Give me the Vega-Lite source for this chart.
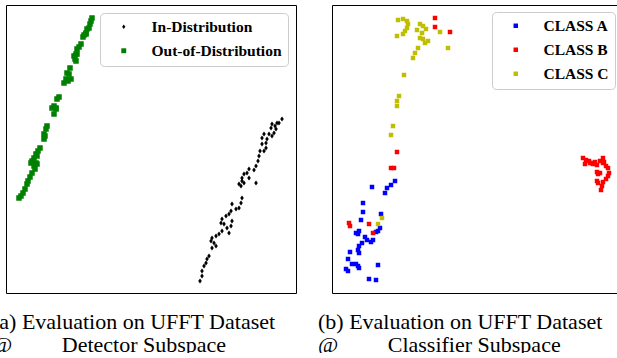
{
  "$schema": "https://vega.github.io/schema/vega-lite/v6.json",
  "padding": {"left": -9, "top": 4, "right": -5, "bottom": -4},
  "autosize": {"type": "pad"},
  "spacing": 20,
  "resolve": {"scale": {"color": "independent", "shape": "independent", "x": "independent", "y": "independent"}, "legend": {"color": "independent", "shape": "independent"}},
  "config": {
    "view": {"stroke": "black", "strokeWidth": 1},
    "font": "Liberation Serif",
    "legend": {
      "orient": "top-right",
      "offset": 8,
      "padding": 6,
      "rowPadding": 7,
      "symbolOffset": 10,
      "labelOffset": 20,
      "symbolSize": 20,
      "cornerRadius": 4,
      "strokeColor": "#cccccc",
      "fillColor": "rgba(255,255,255,0.8)",
      "labelFont": "Liberation Serif",
      "labelFontWeight": "bold",
      "labelFontSize": 15.5,
      "labelColor": "black",
      "symbolStrokeWidth": 0
    },
    "title": {
      "orient": "bottom",
      "anchor": "start",
      "align": "left",
      "dx": -14,
      "offset": 19,
      "font": "Liberation Serif",
      "fontSize": 22,
      "fontWeight": "normal",
      "lineHeight": 23,
      "color": "black",
      "frame": "group"
    }
  },
  "hconcat": [
    {
      "width": 290,
      "height": 288,
      "title": {"text": ["(a) Evaluation on UFFT Dataset", "@\u00a0\u00a0\u00a0\u00a0\u00a0\u00a0\u00a0\u00a0\u00a0Detector Subspace"]},
      "data": {"values": [
        {"x":86,"y":13,"group":"Out-of-Distribution"},{"x":85,"y":16,"group":"Out-of-Distribution"},{"x":84,"y":19,"group":"Out-of-Distribution"},{"x":83,"y":23,"group":"Out-of-Distribution"},{"x":81,"y":24,"group":"Out-of-Distribution"},{"x":80,"y":28,"group":"Out-of-Distribution"},{"x":78,"y":30,"group":"Out-of-Distribution"},{"x":80,"y":29,"group":"Out-of-Distribution"},{"x":77,"y":32,"group":"Out-of-Distribution"},{"x":75,"y":39,"group":"Out-of-Distribution"},{"x":73,"y":42,"group":"Out-of-Distribution"},{"x":71,"y":44,"group":"Out-of-Distribution"},{"x":70,"y":49,"group":"Out-of-Distribution"},{"x":68,"y":51,"group":"Out-of-Distribution"},{"x":71,"y":49,"group":"Out-of-Distribution"},{"x":70,"y":56,"group":"Out-of-Distribution"},{"x":69,"y":54,"group":"Out-of-Distribution"},{"x":64,"y":63,"group":"Out-of-Distribution"},{"x":61,"y":68,"group":"Out-of-Distribution"},{"x":63,"y":69,"group":"Out-of-Distribution"},{"x":60,"y":74,"group":"Out-of-Distribution"},{"x":58,"y":78,"group":"Out-of-Distribution"},{"x":62,"y":76,"group":"Out-of-Distribution"},{"x":65,"y":74,"group":"Out-of-Distribution"},{"x":53,"y":92,"group":"Out-of-Distribution"},{"x":51,"y":94,"group":"Out-of-Distribution"},{"x":48,"y":101,"group":"Out-of-Distribution"},{"x":50,"y":103,"group":"Out-of-Distribution"},{"x":46,"y":103,"group":"Out-of-Distribution"},{"x":50,"y":104,"group":"Out-of-Distribution"},{"x":48,"y":109,"group":"Out-of-Distribution"},{"x":41,"y":121,"group":"Out-of-Distribution"},{"x":40,"y":124,"group":"Out-of-Distribution"},{"x":38,"y":129,"group":"Out-of-Distribution"},{"x":39,"y":131,"group":"Out-of-Distribution"},{"x":38,"y":134,"group":"Out-of-Distribution"},{"x":34,"y":143,"group":"Out-of-Distribution"},{"x":32,"y":146,"group":"Out-of-Distribution"},{"x":30,"y":149,"group":"Out-of-Distribution"},{"x":31,"y":151,"group":"Out-of-Distribution"},{"x":28,"y":153,"group":"Out-of-Distribution"},{"x":26,"y":156,"group":"Out-of-Distribution"},{"x":25,"y":158,"group":"Out-of-Distribution"},{"x":30,"y":158,"group":"Out-of-Distribution"},{"x":28,"y":161,"group":"Out-of-Distribution"},{"x":31,"y":159,"group":"Out-of-Distribution"},{"x":29,"y":164,"group":"Out-of-Distribution"},{"x":26,"y":168,"group":"Out-of-Distribution"},{"x":24,"y":172,"group":"Out-of-Distribution"},{"x":22,"y":176,"group":"Out-of-Distribution"},{"x":21,"y":179,"group":"Out-of-Distribution"},{"x":19,"y":184,"group":"Out-of-Distribution"},{"x":17,"y":188,"group":"Out-of-Distribution"},{"x":15,"y":191,"group":"Out-of-Distribution"},{"x":13,"y":193,"group":"Out-of-Distribution"},
        {"x":276,"y":114,"group":"In-Distribution"},{"x":273,"y":118,"group":"In-Distribution"},{"x":271,"y":118,"group":"In-Distribution"},{"x":269,"y":121,"group":"In-Distribution"},{"x":266,"y":119,"group":"In-Distribution"},{"x":265,"y":123,"group":"In-Distribution"},{"x":270,"y":124,"group":"In-Distribution"},{"x":268,"y":128,"group":"In-Distribution"},{"x":263,"y":129,"group":"In-Distribution"},{"x":266,"y":131,"group":"In-Distribution"},{"x":261,"y":134,"group":"In-Distribution"},{"x":260,"y":138,"group":"In-Distribution"},{"x":258,"y":129,"group":"In-Distribution"},{"x":256,"y":133,"group":"In-Distribution"},{"x":256,"y":139,"group":"In-Distribution"},{"x":260,"y":143,"group":"In-Distribution"},{"x":258,"y":146,"group":"In-Distribution"},{"x":254,"y":146,"group":"In-Distribution"},{"x":253,"y":151,"group":"In-Distribution"},{"x":252,"y":156,"group":"In-Distribution"},{"x":250,"y":161,"group":"In-Distribution"},{"x":248,"y":165,"group":"In-Distribution"},{"x":243,"y":164,"group":"In-Distribution"},{"x":241,"y":168,"group":"In-Distribution"},{"x":238,"y":169,"group":"In-Distribution"},{"x":236,"y":173,"group":"In-Distribution"},{"x":236,"y":176,"group":"In-Distribution"},{"x":233,"y":179,"group":"In-Distribution"},{"x":235,"y":181,"group":"In-Distribution"},{"x":238,"y":178,"group":"In-Distribution"},{"x":243,"y":173,"group":"In-Distribution"},{"x":250,"y":178,"group":"In-Distribution"},{"x":236,"y":193,"group":"In-Distribution"},{"x":235,"y":198,"group":"In-Distribution"},{"x":233,"y":203,"group":"In-Distribution"},{"x":230,"y":204,"group":"In-Distribution"},{"x":226,"y":199,"group":"In-Distribution"},{"x":225,"y":206,"group":"In-Distribution"},{"x":223,"y":209,"group":"In-Distribution"},{"x":220,"y":211,"group":"In-Distribution"},{"x":216,"y":214,"group":"In-Distribution"},{"x":215,"y":218,"group":"In-Distribution"},{"x":218,"y":219,"group":"In-Distribution"},{"x":226,"y":216,"group":"In-Distribution"},{"x":225,"y":221,"group":"In-Distribution"},{"x":221,"y":223,"group":"In-Distribution"},{"x":223,"y":228,"group":"In-Distribution"},{"x":216,"y":226,"group":"In-Distribution"},{"x":213,"y":229,"group":"In-Distribution"},{"x":210,"y":231,"group":"In-Distribution"},{"x":206,"y":233,"group":"In-Distribution"},{"x":205,"y":236,"group":"In-Distribution"},{"x":208,"y":238,"group":"In-Distribution"},{"x":210,"y":241,"group":"In-Distribution"},{"x":206,"y":243,"group":"In-Distribution"},{"x":203,"y":251,"group":"In-Distribution"},{"x":201,"y":254,"group":"In-Distribution"},{"x":200,"y":258,"group":"In-Distribution"},{"x":198,"y":261,"group":"In-Distribution"},{"x":196,"y":266,"group":"In-Distribution"},{"x":196,"y":271,"group":"In-Distribution"},{"x":194,"y":276,"group":"In-Distribution"}
      ]},
      "mark": {"type": "point", "filled": true, "opacity": 1, "size": 25},
      "encoding": {
        "x": {"field": "x", "type": "quantitative", "scale": {"domain": [0, 290]}, "axis": null},
        "y": {"field": "y", "type": "quantitative", "scale": {"domain": [0, 288], "reverse": true}, "axis": null},
        "color": {"field": "group", "type": "nominal", "title": null,
          "scale": {"domain": ["In-Distribution", "Out-of-Distribution"], "range": ["#000000", "#008000"]}},
        "shape": {"field": "group", "type": "nominal", "title": null,
          "scale": {"domain": ["In-Distribution", "Out-of-Distribution"], "range": ["M0,-1L0.72,0L0,1L-0.72,0Z", "M-1.1,-1.1H1.1V1.1H-1.1Z"]}}
      }
    },
    {
      "width": 290,
      "height": 288,
      "title": {"text": ["(b) Evaluation on UFFT Dataset", "@\u00a0\u00a0\u00a0\u00a0\u00a0\u00a0\u00a0\u00a0\u00a0Classifier Subspace"]},
      "data": {"values": [
        {"x":40,"y":182,"cls":"CLASS A"},{"x":63,"y":176,"cls":"CLASS A"},{"x":59,"y":180,"cls":"CLASS A"},{"x":55,"y":183,"cls":"CLASS A"},{"x":53,"y":188,"cls":"CLASS A"},{"x":31,"y":198,"cls":"CLASS A"},{"x":31,"y":207,"cls":"CLASS A"},{"x":49,"y":209,"cls":"CLASS A"},{"x":29,"y":215,"cls":"CLASS A"},{"x":48,"y":223,"cls":"CLASS A"},{"x":46,"y":226,"cls":"CLASS A"},{"x":44,"y":227,"cls":"CLASS A"},{"x":27,"y":226,"cls":"CLASS A"},{"x":24,"y":228,"cls":"CLASS A"},{"x":26,"y":229,"cls":"CLASS A"},{"x":33,"y":232,"cls":"CLASS A"},{"x":35,"y":235,"cls":"CLASS A"},{"x":39,"y":237,"cls":"CLASS A"},{"x":41,"y":235,"cls":"CLASS A"},{"x":30,"y":238,"cls":"CLASS A"},{"x":27,"y":241,"cls":"CLASS A"},{"x":26,"y":245,"cls":"CLASS A"},{"x":27,"y":248,"cls":"CLASS A"},{"x":18,"y":247,"cls":"CLASS A"},{"x":16,"y":254,"cls":"CLASS A"},{"x":20,"y":259,"cls":"CLASS A"},{"x":24,"y":259,"cls":"CLASS A"},{"x":26,"y":261,"cls":"CLASS A"},{"x":27,"y":263,"cls":"CLASS A"},{"x":14,"y":264,"cls":"CLASS A"},{"x":16,"y":266,"cls":"CLASS A"},{"x":46,"y":260,"cls":"CLASS A"},{"x":37,"y":274,"cls":"CLASS A"},{"x":44,"y":275,"cls":"CLASS A"},
        {"x":103,"y":13,"cls":"CLASS B"},{"x":103,"y":22,"cls":"CLASS B"},{"x":118,"y":27,"cls":"CLASS B"},{"x":65,"y":147,"cls":"CLASS B"},{"x":59,"y":163,"cls":"CLASS B"},{"x":62,"y":163,"cls":"CLASS B"},{"x":17,"y":218,"cls":"CLASS B"},{"x":18,"y":221,"cls":"CLASS B"},{"x":37,"y":219,"cls":"CLASS B"},{"x":41,"y":228,"cls":"CLASS B"},{"x":251,"y":153,"cls":"CLASS B"},{"x":253,"y":159,"cls":"CLASS B"},{"x":254,"y":155,"cls":"CLASS B"},{"x":257,"y":156,"cls":"CLASS B"},{"x":258,"y":158,"cls":"CLASS B"},{"x":260,"y":158,"cls":"CLASS B"},{"x":261,"y":159,"cls":"CLASS B"},{"x":263,"y":157,"cls":"CLASS B"},{"x":265,"y":160,"cls":"CLASS B"},{"x":268,"y":156,"cls":"CLASS B"},{"x":271,"y":153,"cls":"CLASS B"},{"x":271,"y":158,"cls":"CLASS B"},{"x":272,"y":157,"cls":"CLASS B"},{"x":274,"y":161,"cls":"CLASS B"},{"x":276,"y":163,"cls":"CLASS B"},{"x":277,"y":168,"cls":"CLASS B"},{"x":276,"y":171,"cls":"CLASS B"},{"x":274,"y":174,"cls":"CLASS B"},{"x":265,"y":167,"cls":"CLASS B"},{"x":268,"y":168,"cls":"CLASS B"},{"x":266,"y":169,"cls":"CLASS B"},{"x":265,"y":176,"cls":"CLASS B"},{"x":266,"y":178,"cls":"CLASS B"},{"x":270,"y":181,"cls":"CLASS B"},{"x":269,"y":185,"cls":"CLASS B"},{"x":271,"y":177,"cls":"CLASS B"},
        {"x":66,"y":15,"cls":"CLASS C"},{"x":71,"y":14,"cls":"CLASS C"},{"x":75,"y":16,"cls":"CLASS C"},{"x":76,"y":19,"cls":"CLASS C"},{"x":75,"y":23,"cls":"CLASS C"},{"x":73,"y":26,"cls":"CLASS C"},{"x":71,"y":29,"cls":"CLASS C"},{"x":65,"y":31,"cls":"CLASS C"},{"x":88,"y":19,"cls":"CLASS C"},{"x":91,"y":21,"cls":"CLASS C"},{"x":94,"y":24,"cls":"CLASS C"},{"x":85,"y":25,"cls":"CLASS C"},{"x":90,"y":28,"cls":"CLASS C"},{"x":88,"y":33,"cls":"CLASS C"},{"x":91,"y":34,"cls":"CLASS C"},{"x":96,"y":36,"cls":"CLASS C"},{"x":93,"y":38,"cls":"CLASS C"},{"x":86,"y":43,"cls":"CLASS C"},{"x":83,"y":48,"cls":"CLASS C"},{"x":81,"y":53,"cls":"CLASS C"},{"x":108,"y":27,"cls":"CLASS C"},{"x":116,"y":43,"cls":"CLASS C"},{"x":72,"y":70,"cls":"CLASS C"},{"x":67,"y":91,"cls":"CLASS C"},{"x":65,"y":96,"cls":"CLASS C"},{"x":65,"y":101,"cls":"CLASS C"},{"x":61,"y":121,"cls":"CLASS C"},{"x":59,"y":130,"cls":"CLASS C"},{"x":50,"y":213,"cls":"CLASS C"},{"x":46,"y":219,"cls":"CLASS C"}
      ]},
      "mark": {"type": "square", "filled": true, "opacity": 1, "size": 20},
      "encoding": {
        "x": {"field": "x", "type": "quantitative", "scale": {"domain": [0, 290]}, "axis": null},
        "y": {"field": "y", "type": "quantitative", "scale": {"domain": [0, 288], "reverse": true}, "axis": null},
        "color": {"field": "cls", "type": "nominal", "title": null,
          "scale": {"domain": ["CLASS A", "CLASS B", "CLASS C"], "range": ["#0000ff", "#ff0000", "#bfbf00"]},
          "legend": {"offset": 7}}
      }
    }
  ]
}
